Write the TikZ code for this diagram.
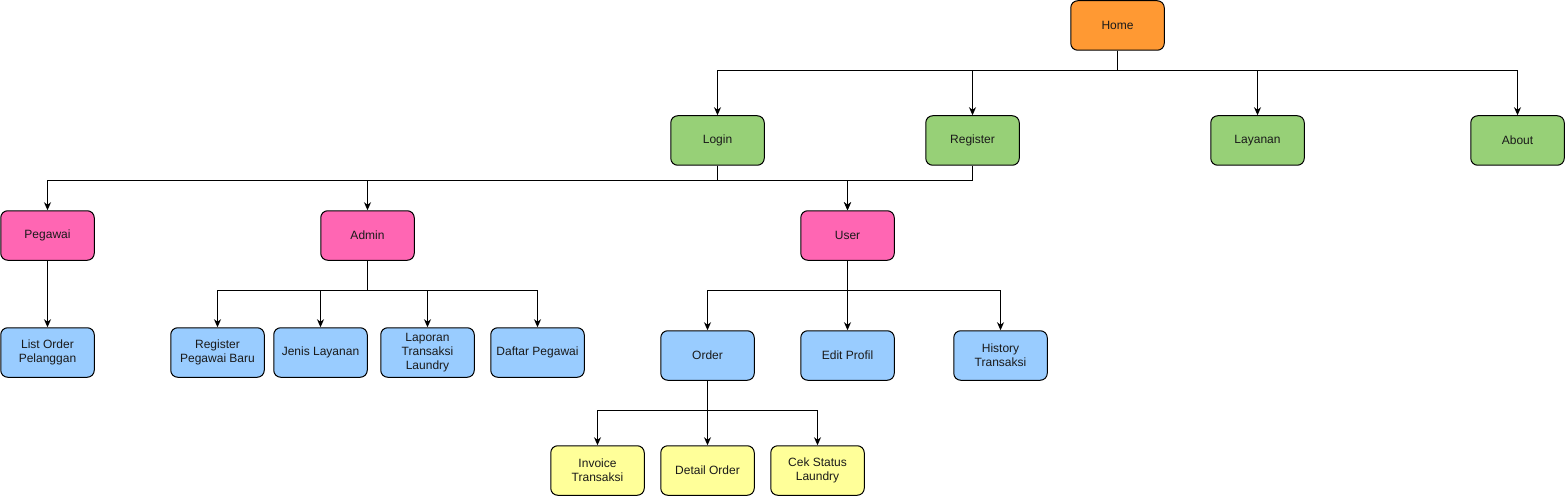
\documentclass[tikz,border=0pt]{standalone}
\usepackage{fontspec}
\setmainfont{Liberation Sans}
\usetikzlibrary{arrows.meta}
\definecolor{corange}{HTML}{FF9933}
\definecolor{cgreen}{HTML}{97D077}
\definecolor{cpink}{HTML}{FF66B3}
\definecolor{cblue}{HTML}{99CCFF}
\definecolor{cyellow}{HTML}{FFFF99}
\definecolor{ctext}{HTML}{1A1A1A}
\tikzset{
  box/.style={draw=black, line width=1pt, rounded corners=7pt, minimum width=93.5pt, minimum height=49.5pt, inner sep=0pt, align=center, text=ctext, font=\fontsize{12}{14}\selectfont},
  home/.style={box, fill=corange},
  lvlone/.style={box, fill=cgreen},
  role/.style={box, fill=cpink},
  feat/.style={box, fill=cblue},
  sub/.style={box, fill=cyellow},
  arr/.style={draw=black, line width=1pt, -{Stealth[length=8pt,width=7pt,inset=2.5pt]}}
}
\begin{document}
\begin{tikzpicture}[x=1pt,y=-1pt]
\useasboundingbox (0,0) rectangle (1565,497);
\node[home] (home) at (1117.5,25.5) {Home};
\node[lvlone] (login) at (717.5,140.5) {Login};
\node[lvlone] (register) at (972.5,140.5) {Register};
\node[lvlone] (layanan) at (1257.5,140.5) {Layanan};
\node[lvlone] (about) at (1517.5,140.5) {About};
\node[role] (pegawai) at (47.5,235.5) {Pegawai};
\node[role] (admin) at (367.5,235.5) {Admin};
\node[role] (user) at (847.5,235.5) {User};
\node[feat] (listorder) at (47.5,352.5) {List Order\\Pelanggan};
\node[feat] (regpeg) at (217.5,352.5) {Register\\Pegawai Baru};
\node[feat] (jenis) at (320.5,352.5) {Jenis Layanan};
\node[feat] (laporan) at (427.5,352.5) {Laporan\\Transaksi\\Laundry};
\node[feat] (daftar) at (537.5,352.5) {Daftar Pegawai};
\node[feat] (order) at (707.5,355.5) {Order};
\node[feat] (edit) at (847.5,355.5) {Edit Profil};
\node[feat] (history) at (1000.5,355.5) {History\\Transaksi};
\node[sub] (invoice) at (597.5,470.5) {Invoice\\Transaksi};
\node[sub] (detail) at (707.5,470.5) {Detail Order};
\node[sub] (cek) at (817.5,470.5) {Cek Status\\Laundry};
% Home
\foreach \t in {login,register,layanan,about}
  \draw[arr] (home.south) -- (home.south |- 0,70.5) -| (\t.north);
% Login / Register
\foreach \t in {pegawai,admin,user}
  \draw[arr] (login.south) -- (login.south |- 0,180.5) -| (\t.north);
\draw[arr] (register.south) -- (register.south |- 0,180.5) -| (user.north);
% Pegawai
\draw[arr] (pegawai) -- (listorder);
% Admin
\foreach \t in {regpeg,jenis,laporan,daftar}
  \draw[arr] (admin.south) -- (admin.south |- 0,290.5) -| (\t.north);
% User
\foreach \t in {order,edit,history}
  \draw[arr] (user.south) -- (user.south |- 0,290.5) -| (\t.north);
% Order
\foreach \t in {invoice,detail,cek}
  \draw[arr] (order.south) -- (order.south |- 0,410.5) -| (\t.north);
\end{tikzpicture}
\end{document}
